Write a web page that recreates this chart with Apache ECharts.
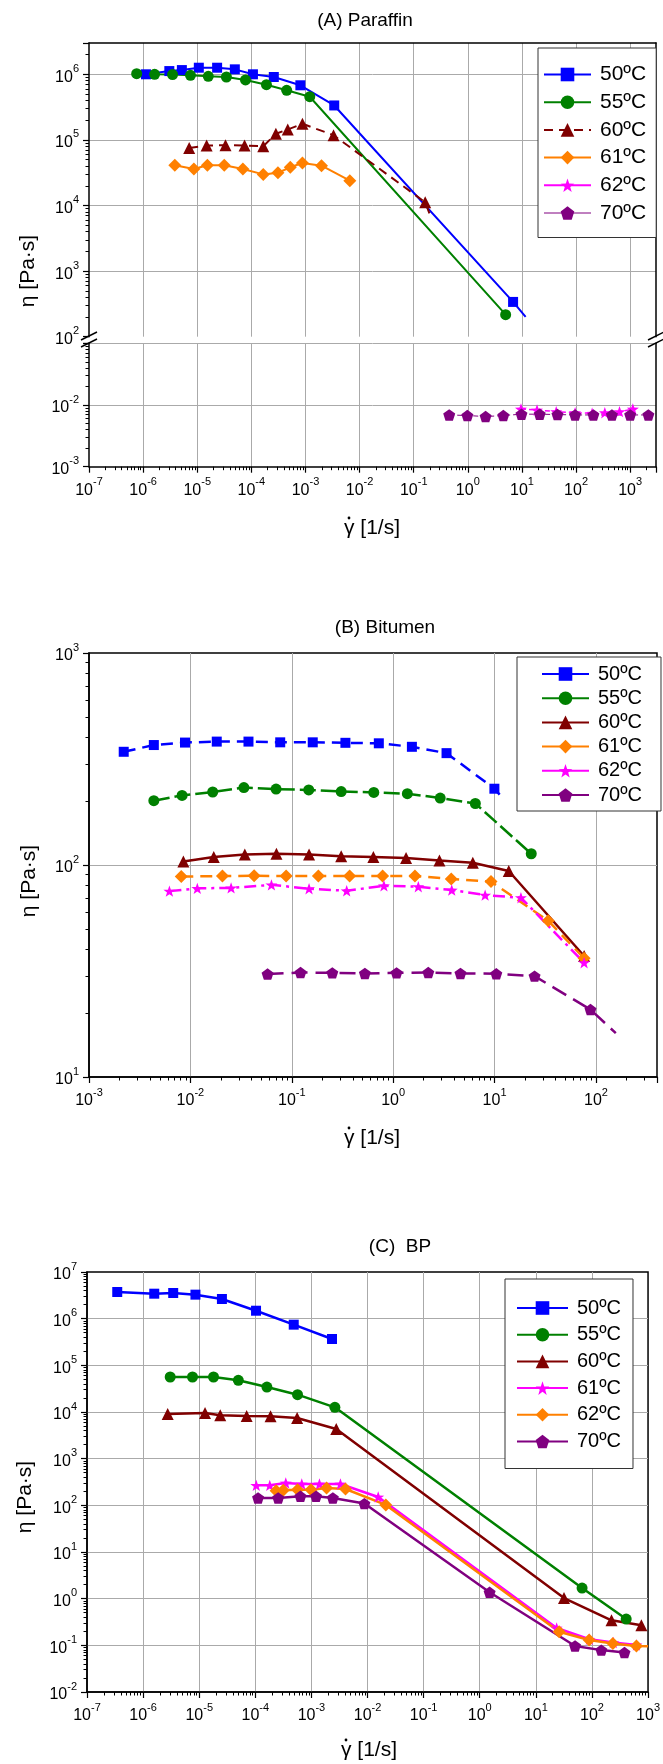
<!DOCTYPE html>
<html><head><meta charset="utf-8">
<script src="https://cdn.jsdelivr.net/npm/echarts@6/dist/echarts.min.js"></script>
<style>html,body{margin:0;padding:0;background:#fff}#c{width:663px;height:1764px}</style>
</head><body><div id="c"></div>
<script>
// ---------- Panel A: Paraffin ----------
const A50_x = [1.13e-6, 3.05e-6, 5.2e-6, 1.07e-5, 2.33e-5, 4.95e-5, 1.07e-4, 2.6e-4, 8.05e-4, 3.4e-3, 6.86];
const A50_y = [1.0e6, 1.12e6, 1.16e6, 1.26e6, 1.26e6, 1.19e6, 1.0e6, 9.1e5, 6.8e5, 3.35e5, 339];
const A50_tail = [11.7, 200];
const A55_x = [7.6e-7, 1.63e-6, 3.5e-6, 7.5e-6, 1.6e-5, 3.46e-5, 7.8e-5, 1.9e-4, 4.5e-4, 1.2e-3, 5.0];
const A55_y = [1.02e6, 1.0e6, 9.9e5, 9.65e5, 9.3e5, 9.1e5, 8.2e5, 6.95e5, 5.7e5, 4.55e5, 217];
const A60_x = [7.1e-6, 1.49e-5, 3.33e-5, 7.5e-5, 1.66e-4, 2.84e-4, 4.7e-4, 8.8e-4, 3.3e-3, 0.163];
const A60_y = [7.55e4, 8.2e4, 8.3e4, 8.2e4, 8.0e4, 1.24e5, 1.44e5, 1.76e5, 1.18e5, 1.12e4];
const A60_tail = [0.195, 7.6e3];
const A61_x = [3.85e-6, 8.66e-6, 1.54e-5, 3.16e-5, 6.98e-5, 1.66e-4, 3.1e-4, 5.24e-4, 8.8e-4, 1.98e-3, 6.6e-3];
const A61_y = [4.1e4, 3.6e4, 4.1e4, 4.1e4, 3.6e4, 2.98e4, 3.16e4, 3.82e4, 4.45e4, 4.05e4, 2.39e4];
const A62_x = [9.6, 19, 43, 96, 198, 340, 635, 1120];
const A62_y = [8.6e-3, 8.3e-3, 7.8e-3, 7.5e-3, 7.35e-3, 7.5e-3, 7.8e-3, 8.6e-3];
const A70_x = [0.453, 0.98, 2.13, 4.53, 9.8, 21.3, 45.3, 96, 209, 460, 1000, 2170];
const A70_y = [6.9e-3, 6.75e-3, 6.5e-3, 6.75e-3, 7.1e-3, 7.1e-3, 7.0e-3, 6.9e-3, 6.9e-3, 6.9e-3, 6.9e-3, 6.9e-3];

// ---------- Panel B: Bitumen ----------
const B50_x = [2.2e-3, 4.36e-3, 8.85e-3, 0.0182, 0.0374, 0.0769, 0.161, 0.338, 0.722, 1.53, 3.36, 9.96];
const B50_y = [342, 368, 378, 382, 382, 379, 379, 377, 375, 361, 337, 229];
const B50_tail = [11.7, 210];
const B55_x = [4.36e-3, 8.28e-3, 0.0166, 0.0337, 0.070, 0.147, 0.307, 0.644, 1.38, 2.91, 6.46, 23.0];
const B55_y = [201, 213, 221, 232, 228, 226, 222, 220, 217, 207, 195, 113];
const B60_x = [8.53e-3, 0.017, 0.0344, 0.0706, 0.148, 0.307, 0.638, 1.34, 2.86, 6.1, 13.8, 76.4];
const B60_y = [104, 109, 112, 113, 112, 110, 109, 108, 105, 102.5, 93.7, 37.2];
const B61_x = [8.13e-3, 0.0207, 0.0425, 0.088, 0.183, 0.372, 0.787, 1.64, 3.74, 9.22, 33.8, 76.4];
const B61_y = [88.2, 88.7, 88.9, 88.7, 88.7, 88.7, 88.7, 88.7, 85.9, 83.5, 54.6, 36.3];
const B62_x = [6.21e-3, 0.0117, 0.0252, 0.063, 0.148, 0.348, 0.811, 1.77, 3.78, 8.07, 18.2, 76.4];
const B62_y = [75.3, 77.6, 78, 80.6, 77.3, 75.6, 79.8, 79, 76.2, 72.1, 70.1, 34.6];
const B70_x = [0.0577, 0.122, 0.251, 0.526, 1.08, 2.22, 4.61, 10.4, 24.8, 88.3];
const B70_y = [30.6, 31.1, 31.0, 30.8, 31.0, 31.1, 30.8, 30.7, 29.9, 20.8];
const B70_tail = [157, 16.1];

// ---------- Panel C: BP ----------
const C50_x = [3.46e-7, 1.58e-6, 3.44e-6, 8.57e-6, 2.54e-5, 1.03e-4, 4.84e-4, 2.33e-3];
const C50_y = [3.73e6, 3.43e6, 3.55e6, 3.27e6, 2.64e6, 1.48e6, 7.44e5, 3.67e5];
const C55_x = [3.04e-6, 7.59e-6, 1.8e-5, 4.98e-5, 1.61e-4, 5.66e-4, 2.62e-3, 66.7, 408];
const C55_y = [5.62e4, 5.62e4, 5.62e4, 4.77e4, 3.43e4, 2.35e4, 1.26e4, 1.69, 0.366];
const C60_x = [2.74e-6, 1.27e-5, 2.37e-5, 7.01e-5, 1.87e-4, 5.56e-4, 2.77e-3, 31.8, 223, 760];
const C60_y = [9.06e3, 9.5e3, 8.5e3, 8.2e3, 8.07e3, 7.43e3, 4.32e3, 1.03, 0.343, 0.268];
const C61_x = [1.04e-4, 1.81e-4, 3.49e-4, 6.73e-4, 1.39e-3, 3.29e-3, 0.0155, 23.5, 90, 240, 620];
const C61_y = [268, 268, 301, 286, 286, 286, 151, 0.235, 0.135, 0.115, 0.102];
const C62_x = [2.35e-4, 3.15e-4, 5.66e-4, 9.84e-4, 1.86e-3, 4.05e-3, 0.0212, 26, 89, 236, 621];
const C62_y = [206, 210, 217, 217, 235, 224, 102, 0.196, 0.130, 0.110, 0.097];
const C62_tail = [1000, 0.096];
const C70_x = [1.12e-4, 2.56e-4, 6.38e-4, 1.21e-3, 2.41e-3, 8.79e-3, 1.5, 50, 147, 380];
const C70_y = [144, 144, 156, 156, 144, 109, 1.37, 0.097, 0.079, 0.070];

const TEMPS = ['50', '55', '60', '61', '62', '70'];
const LABELS = ['50ºC', '55ºC', '60ºC', '61ºC', '62ºC', '70ºC'];

const FONT = '"Liberation Sans", Arial, sans-serif';
const GRIDC = '#aaaaaa';
const COL = {blue:'#0000ff', green:'#008000', red:'#800000', orange:'#ff8000', mag:'#ff00ff', pur:'#800080'};
const STAR = 'path://M0,-10 L2.351,-3.236 L9.511,-3.09 L3.804,1.236 L5.878,8.09 L0,4 L-5.878,8.09 L-3.804,1.236 L-9.511,-3.09 L-2.351,-3.236 Z';
const PENT = 'path://M0,-10 L9.511,-3.09 L5.878,8.09 L-5.878,8.09 L-9.511,-3.09 Z';

const RICH = {
  b:{fontSize:16, fontFamily:FONT, color:'#000', lineHeight:22, verticalAlign:'bottom'},
  s:{fontSize:11, fontFamily:FONT, color:'#000', lineHeight:22, verticalAlign:'top'}
};
function expLabel(v){ const e=Math.log10(v), r=Math.round(e); if(Math.abs(e-r)>1e-6) return ''; return '{b|10}{s|'+r+'}'; }

function logAxis(gi, min, max, show){
  return {type:'log', logBase:10, gridIndex:gi, min:min, max:max, interval:1, splitNumber:12,
    axisLine:{show:show, onZero:false, lineStyle:{color:'#000', width:1.5}},
    axisTick:{show:show, length:6, lineStyle:{color:'#000', width:1.2}},
    minorTick:{show:show, splitNumber:9, length:3.5, lineStyle:{color:'#000', width:1}},
    axisLabel:{show:show, formatter:expLabel, rich:RICH, margin:10},
    splitLine:{show:true, showMinLine:false, showMaxLine:false, lineStyle:{color:GRIDC, width:1}}
  };
}
function frameAxis(gi, pos){
  return {type:'value', gridIndex:gi, position:pos, min:0, max:1,
    axisLine:{show:true, onZero:false, lineStyle:{color:'#000', width:1.5}},
    axisTick:{show:false}, axisLabel:{show:false}, splitLine:{show:false}};
}

function mk(name, xi, yi, xs, ys, tail, color, symbol, size, lw, ltype){
  const data = xs.map((x,i)=>[x, ys[i]]);
  if (tail) data.push({value: tail, symbol:'none'});
  return {name:name, type:'line', xAxisIndex:xi, yAxisIndex:yi, data:data,
    symbol:symbol, symbolSize:size, symbolKeepAspect:true, showSymbol:true,
    itemStyle:{color:color}, lineStyle:{color:color, width:lw, type:ltype||'solid'},
    emphasis:{disabled:true}, z:3};
}

const series = [
  // Panel A (upper grid: x0/y0, lower grid: x2/y2)
  mk('A50',0,0,A50_x,A50_y,A50_tail,COL.blue,'rect',10,2),
  mk('A55',0,0,A55_x,A55_y,null,COL.green,'circle',11,2),
  mk('A60',0,0,A60_x,A60_y,A60_tail,COL.red,'triangle',12,2,[9,6]),
  mk('A61',0,0,A61_x,A61_y,null,COL.orange,'diamond',13,2),
  mk('A62',2,2,A62_x,A62_y,null,COL.mag,STAR,12,1.5,[5,3]),
  mk('A70',2,2,A70_x,A70_y,null,COL.pur,PENT,12,1,[5,3]),
  // Panel B (x3/y4)
  mk('B50',3,4,B50_x,B50_y,B50_tail,COL.blue,'rect',10,2.5,[12,7]),
  mk('B55',3,4,B55_x,B55_y,null,COL.green,'circle',11,2.5,[16,5]),
  mk('B60',3,4,B60_x,B60_y,null,COL.red,'triangle',12,2.5),
  mk('B61',3,4,B61_x,B61_y,null,COL.orange,'diamond',13,2.5,[12,7]),
  mk('B62',3,4,B62_x,B62_y,null,COL.mag,STAR,12,2.5,[12,5,3,5]),
  mk('B70',3,4,B70_x,B70_y,B70_tail,COL.pur,PENT,12,2.5,[16,8]),
  // Panel C (x4/y5)
  mk('C50',4,5,C50_x,C50_y,null,COL.blue,'rect',10,2.5),
  mk('C55',4,5,C55_x,C55_y,null,COL.green,'circle',11,2.5),
  mk('C60',4,5,C60_x,C60_y,null,COL.red,'triangle',12,2.5),
  mk('C61',4,5,C61_x,C61_y,null,COL.mag,STAR,12,2.5),
  mk('C62',4,5,C62_x,C62_y,C62_tail,COL.orange,'diamond',13,2.5),
  mk('C70',4,5,C70_x,C70_y,null,COL.pur,PENT,12,2.5)
];

function legend(prefix, left, top, pad, iw, gap, fs, lineOverrides){
  return {
    data: TEMPS.map((t,i)=>{ const d={name:prefix+t}; if(lineOverrides && lineOverrides[i]) d.lineStyle=lineOverrides[i]; return d; }),
    formatter:function(n){ return LABELS[TEMPS.indexOf(n.slice(1))]; },
    orient:'vertical', left:left, top:top, padding:pad, itemWidth:iw, itemHeight:17, itemGap:gap,
    backgroundColor:'#fff', borderColor:'#333', borderWidth:1, borderRadius:0,
    selectedMode:false, z:10,
    textStyle:{fontSize:fs, lineHeight:20, fontFamily:FONT, color:'#000', padding:[0,0,0,4]}};
}
const SOLID = {type:'solid'};

function txt(s, x, y, fs, rot){
  return {type:'text', x:x, y:y, rotation:rot||0, z:20,
    style:{text:s, fill:'#000', font:fs+'px '+FONT, align:'center', verticalAlign:'middle'}};
}
function gammaTitle(x, y){
  return [txt('γ [1/s]', x, y, 21),
    {type:'circle', z:20, shape:{cx:x-23, cy:y-10, r:1.4}, style:{fill:'#000'}}];
}
function brk(x0, y0){
  return [
    {type:'line', z:20, shape:{x1:x0, y1:y0+4, x2:x0+16, y2:y0-4}, style:{stroke:'#000', lineWidth:1.5}},
    {type:'line', z:20, shape:{x1:x0, y1:y0+11, x2:x0+16, y2:y0+3}, style:{stroke:'#000', lineWidth:1.5}}
  ];
}

const yALow = logAxis(1, 1e-3, 0.1, true);
yALow.axisLabel.formatter = function(v){ return v > 0.05 ? '' : expLabel(v); };

const option = {
  animation:false,
  backgroundColor:'#fff',
  textStyle:{fontFamily:FONT},
  grid:[
    {left:89, top:43, width:567, height:293.7},
    {left:89, top:343.3, width:567, height:123.4},
    {left:89, top:653, width:568, height:424, show:true, borderColor:'#000', borderWidth:1.5, backgroundColor:'transparent'},
    {left:87, top:1272, width:564, height:420, show:true, borderColor:'#000', borderWidth:1.5, backgroundColor:'transparent'}
  ],
  xAxis:[
    logAxis(0, 1e-7, 3000, false),                // 0 A upper
    frameAxis(0, 'top'),                         // 1 A top frame
    logAxis(1, 1e-7, 3000, true),                 // 2 A lower (labelled)
    logAxis(2, 1e-3, 400, true),                  // 3 B
    logAxis(3, 1e-7, 1000, true)                  // 4 C
  ],
  yAxis:[
    logAxis(0, 100, 3e6, true),                   // 0 A upper
    frameAxis(0, 'right'),                       // 1
    yALow,                                       // 2 A lower
    frameAxis(1, 'right'),                       // 3
    logAxis(2, 10, 1000, true),                   // 4 B
    logAxis(3, 1e-2, 1e7, true)                   // 5 C
  ],
  legend:[
    legend('A', 538, 48, [16,10,14,5], 47, 6.7, 21, [null,null,null,null,{type:'solid', width:2},{type:'solid', width:1}]),
    legend('B', 517, 657, [7,19,6,24], 47, 4.2, 20, [SOLID,SOLID,SOLID,SOLID,SOLID,SOLID]),
    legend('C', 505, 1279, [19,12,17,11], 51, 6.7, 20, null)
  ],
  graphic:[
    txt('(A) Paraffin', 365, 21, 19),
    txt('(B) Bitumen', 385, 628, 19),
    txt('(C)  BP', 400, 1247, 19),
    txt('η [Pa·s]', 28, 271, 21, Math.PI/2),
    txt('η [Pa·s]', 29, 881, 21, Math.PI/2),
    txt('η [Pa·s]', 25, 1497, 21, Math.PI/2)
  ].concat(gammaTitle(372, 528)).concat(gammaTitle(372, 1138)).concat(gammaTitle(369, 1750))
   .concat(brk(81, 336)).concat(brk(648, 336)),
  series:series
};

const chart = echarts.init(document.getElementById('c'), null, {renderer:'canvas'});
chart.setOption(option);
</script></body></html>
